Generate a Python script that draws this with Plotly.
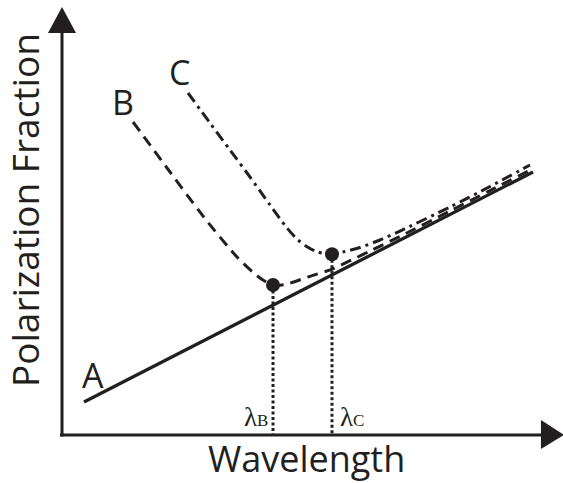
import plotly.graph_objects as go

# ---- data (abstract units: wavelength 0..10, polarization 0..10) ----
line_a_x = [0.439, 9.401]
line_a_y = [0.771, 6.145]

curve_b_x = [1.417, 2.156, 2.814, 3.493, 3.852, 4.012, 4.212, 4.451, 4.910, 5.389,
             5.788, 6.188, 6.747, 7.745, 8.543, 9.361]
curve_b_y = [7.313, 6.145, 5.117, 4.159, 3.762, 3.621, 3.505, 3.516, 3.692, 3.874,
             4.093, 4.322, 4.640, 5.234, 5.710, 6.201]

curve_c_x = [2.515, 2.954, 3.353, 3.752, 4.152, 4.491, 4.711, 4.890, 5.090, 5.389,
             5.649, 5.948, 6.347, 6.747, 7.745, 8.543, 9.341]
curve_c_y = [7.991, 7.290, 6.659, 6.028, 5.374, 4.836, 4.556, 4.400, 4.283, 4.222,
             4.287, 4.381, 4.556, 4.766, 5.327, 5.806, 6.308]

min_points_x = [4.212, 5.389]
min_points_y = [3.505, 4.222]

curve_labels = ["A", "B", "C"]
curve_label_x = [0.619, 1.218, 2.355]
curve_label_y = [1.402, 7.780, 8.481]

lambda_labels = ["B", "C"]
lambda_label_x = [3.872, 5.798]

x_title = "Wavelength"
y_title = "Polarization Fraction"

INK = "#231f20"
SANS = "Open Sans"

fig = go.Figure()

fig.add_trace(go.Scatter(x=line_a_x, y=line_a_y, mode="lines",
                         line=dict(color=INK, width=3.3), hoverinfo="skip"))
fig.add_trace(go.Scatter(x=curve_b_x, y=curve_b_y, mode="lines",
                         line=dict(color=INK, width=3, dash="11px,7px", shape="spline",
                                   smoothing=0.8), hoverinfo="skip"))
fig.add_trace(go.Scatter(x=curve_c_x, y=curve_c_y, mode="lines",
                         line=dict(color=INK, width=3, dash="11px,5px,3px,5px", shape="spline",
                                   smoothing=0.8), hoverinfo="skip"))

# dotted drop lines from the minima to the wavelength axis
for mx, my in zip(min_points_x, min_points_y):
    fig.add_trace(go.Scatter(x=[mx, mx], y=[my, 0], mode="lines",
                             line=dict(color=INK, width=3, dash="3px,2.5px"), hoverinfo="skip"))

fig.add_trace(go.Scatter(x=min_points_x, y=min_points_y, mode="markers",
                         marker=dict(color=INK, size=14), hoverinfo="skip"))

# axes drawn as arrows
shapes = [
    dict(type="line", xref="x", yref="y", x0=-0.04, x1=9.58, y0=0, y1=0,
         line=dict(color=INK, width=3)),
    dict(type="path", xref="x", yref="y", path="M 9.56 0.35 L 10.02 0 L 9.56 -0.33 Z",
         fillcolor=INK, line=dict(color=INK, width=0)),
    dict(type="line", xref="x", yref="y", x0=0, x1=0, y0=-0.035, y1=9.42,
         line=dict(color=INK, width=3)),
    dict(type="path", xref="x", yref="y", path="M -0.28 9.39 L 0 10.0 L 0.28 9.39 Z",
         fillcolor=INK, line=dict(color=INK, width=0)),
]

annotations = []
for t, ax, ay in zip(curve_labels, curve_label_x, curve_label_y):
    annotations.append(dict(x=ax, y=ay, xref="x", yref="y", text=t, showarrow=False,
                            font=dict(family=SANS, size=34, color=INK)))
for t, ax in zip(lambda_labels, lambda_label_x):
    annotations.append(dict(x=ax, y=0.42, xref="x", yref="y",
                            text="λ<span style='font-size:17px'>" + t + "</span>",
                            showarrow=False, borderpad=0,
                            font=dict(family="Liberation Serif", size=27, color=INK)))
annotations.append(dict(x=4.89, y=0, xref="x", yref="paper", yanchor="bottom",
                        yshift=-1, borderpad=0,
                        text=x_title, showarrow=False,
                        font=dict(family=SANS, size=36, color=INK)))
annotations.append(dict(x=-0.758, y=5.257, xref="x", yref="y", text=y_title, showarrow=False,
                        textangle=-90, font=dict(family=SANS, size=37, color=INK)))

# plot area spans the whole canvas; axis origin sits at pixel (62, 435)
X_PX, Y_PX = 50.1, 42.8
fig.update_layout(
    width=563, height=483,
    margin=dict(l=0, r=0, t=0, b=0, pad=0),
    paper_bgcolor="white", plot_bgcolor="white",
    showlegend=False,
    xaxis=dict(range=[-62 / X_PX, (563 - 62) / X_PX], visible=False, fixedrange=True),
    yaxis=dict(range=[-(483 - 435) / Y_PX, 435 / Y_PX], visible=False, fixedrange=True),
    shapes=shapes, annotations=annotations,
    hovermode=False,
)

fig.write_html("out.html", config={"displayModeBar": False},
               post_script="document.body.style.margin='0px';")
